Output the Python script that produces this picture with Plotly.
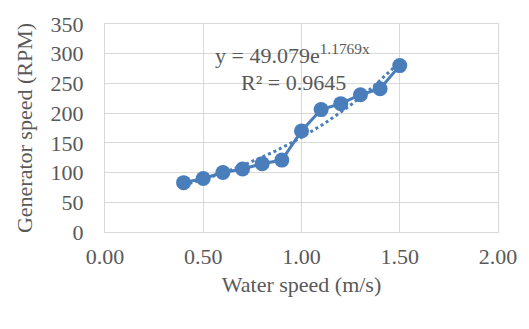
import numpy as np
import plotly.graph_objects as go

water_speed = [0.4, 0.5, 0.6, 0.7, 0.8, 0.9, 1.0, 1.1, 1.2, 1.3, 1.4, 1.5]
gen_speed = [83, 90, 100, 106, 115, 121, 170, 206, 216, 231, 241, 280]
trend_a = 49.079
trend_b = 1.1769
r_squared = 0.9645

xt = np.linspace(min(water_speed), max(water_speed), 60)
yt = trend_a * np.exp(trend_b * xt)

blue = "#4A7EBB"
grid = "#D9D9D9"
txt = "#595959"
font = "Liberation Serif, Times New Roman, serif"

fig = go.Figure()
fig.add_trace(go.Scatter(x=xt, y=yt, mode="lines",
                         line=dict(color=blue, width=3, dash="dot"),
                         hoverinfo="skip", showlegend=False))
fig.add_trace(go.Scatter(x=water_speed, y=gen_speed, mode="lines+markers",
                         line=dict(color=blue, width=3),
                         marker=dict(color=blue, size=15),
                         showlegend=False))

fig.add_annotation(x=0.955, y=300, xref="x", yref="y", yanchor="middle",
                   text=f"y = {trend_a}e<sup>{trend_b}x</sup>",
                   showarrow=False, font=dict(family=font, size=22, color=txt))
fig.add_annotation(x=0.957, y=251, xref="x", yref="y", yanchor="middle",
                   text=f"R² = {r_squared}",
                   showarrow=False, font=dict(family=font, size=22, color=txt))

fig.update_layout(
    width=529, height=329,
    margin=dict(l=105, r=28, t=19, b=97),
    paper_bgcolor="white", plot_bgcolor="white",
    font=dict(family=font, size=22, color=txt),
    xaxis=dict(range=[0, 2], dtick=0.5, tickformat=".2f",
               showgrid=True, gridcolor=grid, gridwidth=1.3,
               showline=True, linecolor=grid, linewidth=1.3, mirror=True,
               zeroline=False, ticks="", ticklabelstandoff=4,
               title=dict(text="Water speed (m/s)", standoff=9,
                          font=dict(size=22, color=txt))),
    yaxis=dict(range=[0, 350], dtick=50,
               showgrid=True, gridcolor=grid, gridwidth=1.3,
               showline=True, linecolor=grid, linewidth=1.3, mirror=True,
               zeroline=False, ticks="", ticklabelstandoff=16,
               title=dict(text="Generator speed (RPM)", standoff=11,
                          font=dict(size=22, color=txt))),
)

fig.write_html("out.html")
